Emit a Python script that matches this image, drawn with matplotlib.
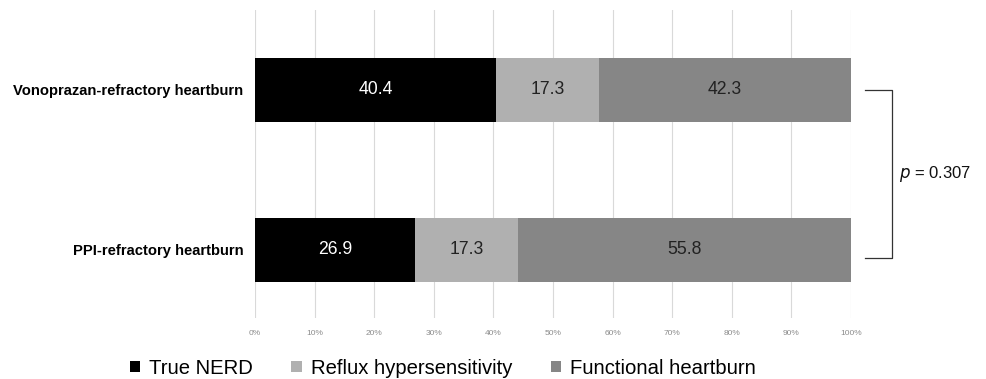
import matplotlib.pyplot as plt
from matplotlib.ticker import MultipleLocator, PercentFormatter

groups = ['PPI-refractory heartburn', 'Vonoprazan-refractory heartburn']
true_nerd = [26.9, 40.4]
reflux_hyp = [17.3, 17.3]
functional = [55.8, 42.3]
series_names = ['True NERD', 'Reflux hypersensitivity', 'Functional heartburn']
colors = ['#000000', '#b0b0b0', '#868686']
text_colors = ['white', '#222222', '#222222']
p_text = '$p$ = 0.307'

plt.rcParams['font.family'] = ['Liberation Sans', 'DejaVu Sans']

fig = plt.figure(figsize=(9.86, 3.79), dpi=100)
ax = fig.add_axes([0.2586, 0.161, 0.6045, 0.813])

ypos = [0, 1]
left = [0, 0]
handles = []
for vals, c, tc, name in zip([true_nerd, reflux_hyp, functional], colors, text_colors, series_names):
    b = ax.barh(ypos, vals, left=left, height=0.4, color=c, zorder=3, label=name)
    handles.append(b)
    for y, v, l in zip(ypos, vals, left):
        ax.text(l + v / 2, y, f'{v:.1f}', ha='center', va='center', color=tc, fontsize=12.7, zorder=4)
    left = [a + b_ for a, b_ in zip(left, vals)]

ax.set_xlim(0, 100)
ax.set_ylim(-0.425, 1.5)
ax.xaxis.set_major_locator(MultipleLocator(10))
ax.xaxis.set_major_formatter(PercentFormatter(decimals=0))
ax.grid(axis='x', color='#d9d9d9', linewidth=0.8, zorder=0)
for s in ax.spines.values():
    s.set_visible(False)
ax.tick_params(axis='x', length=0, labelsize=6, labelcolor='#8c8c8c', pad=9)
ax.tick_params(axis='y', length=0, pad=8.5)
ax.set_yticks(ypos)
ax.set_yticklabels(groups, fontsize=10.6, fontweight='bold')

# bracket for p value
bx0, bx1 = 102.3, 106.8
ax.plot([bx0, bx1, bx1, bx0], [1.0, 1.0, -0.05, -0.05], color='#333333', linewidth=0.9,
        clip_on=False, zorder=5)
ax.text(108.0, 0.475, p_text, ha='left', va='center', fontsize=12, color='#111111')

fig.legend(handles=handles, labels=series_names, loc='lower center', ncol=3,
           bbox_to_anchor=(0.449, -0.045), frameon=False, fontsize=14.6,
           handlelength=0.5, handleheight=0.5, handletextpad=0.45, columnspacing=1.9)

fig.savefig('out.png', dpi=100)
